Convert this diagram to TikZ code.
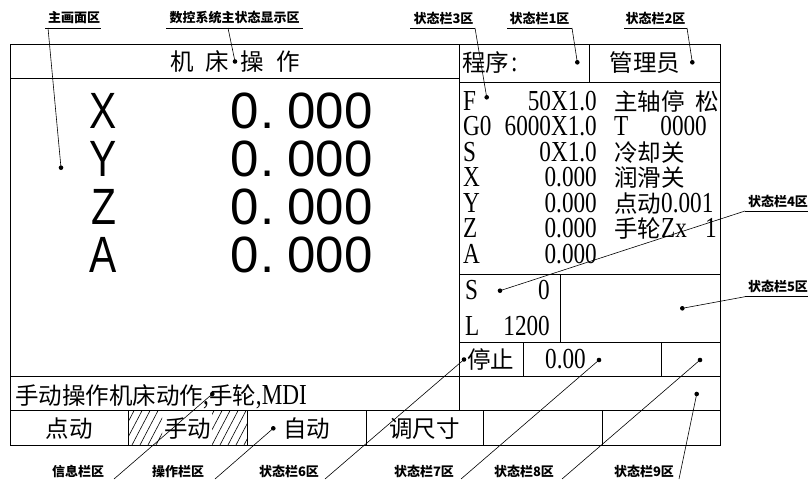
\documentclass[tikz,border=0pt]{standalone}
\usepackage{fontspec}
\setmainfont{Noto Sans CJK SC}
\newfontfamily\cjk{Noto Sans CJK SC}
\newfontfamily\lat{Liberation Serif}[FakeStretch=0.8]
\newfontfamily\bigdig{Liberation Sans}
\newfontfamily\biglet{Liberation Sans}[FakeStretch=0.8]
\newfontfamily\labfont{Noto Sans CJK SC}
\newcommand\lt[1]{{\lat\fontsize{29}{29}\selectfont #1}}
\begin{document}
\begin{tikzpicture}[x=1pt,y=-1pt,
  frame/.style={line width=0.9pt},
  leader/.style={line width=0.6pt},
  hatchline/.style={line width=0.6pt},
  cj/.style={font=\cjk\fontsize{23.5}{23.5}\selectfont, inner sep=0pt},
  la/.style={font=\lat\fontsize{29}{29}\selectfont, inner sep=0pt},
  bigd/.style={font=\bigdig\fontsize{51}{51}\selectfont, inner sep=0pt, anchor=base},
  bigl/.style={font=\biglet\fontsize{51}{51}\selectfont, inner sep=0pt, anchor=base},
  lab/.style={font=\labfont\bfseries\fontsize{13}{13}\selectfont, inner sep=0pt},
  dotmark/.style={circle, fill=black, inner sep=0pt, minimum size=4.6pt}]
\useasboundingbox (0,0) rectangle (808,479);

% ---------- frame ----------
\draw[frame] (10,44) rectangle (720.5,445);
\draw[frame] (10,78) -- (459,78);
\draw[frame] (459,44) -- (459,410.7);
\draw[frame] (459,82.5) -- (720.5,82.5);
\draw[frame] (589.7,44) -- (589.7,82.5);
\draw[frame] (459,274.3) -- (720.5,274.3);
\draw[frame] (560,274.3) -- (560,342.7);
\draw[frame] (459,342.7) -- (720.5,342.7);
\draw[frame] (10,376.7) -- (720.5,376.7);
\draw[frame] (523.3,342.7) -- (523.3,376.7);
\draw[frame] (661,342.7) -- (661,376.7);
\draw[frame] (10,410.7) -- (720.5,410.7);
\foreach \xx in {128,247,366,483,602} \draw[frame] (\xx,410.7) -- (\xx,445);

% ---------- hatch of the selected key ----------
\begin{scope}
  \clip (128,410.7) rectangle (162,445) (212,410.7) rectangle (247,445);
  \foreach \xx in {100,108,...,260} \draw[hatchline] (\xx,445) -- (\xx+18,410.7);
\end{scope}

% ---------- main screen ----------
\node[cj] (title) at (235,61.5) {机\hspace{12pt}床\hspace{12pt}操\hspace{12pt}作};

\foreach \nm/\lbl/\yy in {ax/X/128, ay/Y/176, az/Z/224, aa/A/272}{
  \node[bigl] (\nm-l) at (103.5,\yy) {\lbl};
  \node[bigd] (\nm-a) at (245,\yy) {0};
  \node[bigd] (\nm-b) at (267.5,\yy) {.};
  \node[bigd] (\nm-c) at (330,\yy) {000};
}

% ---------- right panel ----------
\node[cj, anchor=west] (prog) at (462,63) {程序\hspace{2pt}\lt{:}};
\node[cj] (admin) at (645,63) {管理员};

\node[la, anchor=base west] (rF) at (463,110) {F};
\node[la, anchor=base east] (vF) at (597,110) {50X1.0};
\node[cj, anchor=base west] (sF) at (614,110) {主轴停};
\node[cj, anchor=base east] (sF2) at (719,110) {松};

\node[la, anchor=base west] (rG) at (463,135.5) {G0};
\node[la, anchor=base east] (vG) at (597,135.5) {6000X1.0};
\node[la, anchor=base west] (sT) at (614,135.5) {T};
\node[la, anchor=base east] (sT2) at (707,135.5) {0000};

\node[la, anchor=base west] (rS) at (463,161) {S};
\node[la, anchor=base east] (vS) at (597,161) {0X1.0};
\node[cj, anchor=base west] (sS) at (614,161) {冷却关};

\node[la, anchor=base west] (rX) at (463,186.5) {X};
\node[la, anchor=base east] (vX) at (597,186.5) {0.000};
\node[cj, anchor=base west] (sX) at (614,186.5) {润滑关};

\node[la, anchor=base west] (rY) at (463,212) {Y};
\node[la, anchor=base east] (vY) at (597,212) {0.000};
\node[cj, anchor=base west] (sY) at (614,212) {点动\lt{0.001}};

\node[la, anchor=base west] (rZ) at (463,237.5) {Z};
\node[la, anchor=base east] (vZ) at (597,237.5) {0.000};
\node[cj, anchor=base west] (sZ) at (614,237.5) {手轮\lt{Zx}};
\node[la, anchor=base east] (sZ2) at (717,237.5) {1};

\node[la, anchor=base west] (rA) at (463,263) {A};
\node[la, anchor=base east] (vA) at (597,263) {0.000};

\node[la, anchor=base west] (bS) at (465,299) {S};
\node[la, anchor=base east] (bS2) at (550,299) {0};
\node[la, anchor=base west] (bL) at (465,335) {L};
\node[la, anchor=base east] (bL2) at (550,335) {1200};

\node[cj] (stop) at (490.5,359) {停止};
\node[la, anchor=base east] (feed) at (586,368) {0.00};

% ---------- info and keys ----------
\node[cj, anchor=base west] (info) at (15,404) {手动操作机床动作\lt{,}手轮\lt{,MDI}};
\node[cj] (k1) at (69,429) {点动};
\node[cj] (k2) at (187.5,429) {手动};
\node[cj] (k3) at (306.5,429) {自动};
\node[cj] (k4) at (424.5,429) {调尺寸};

% ---------- dots ----------
\node[dotmark] (d1) at (61,167.7) {};
\node[dotmark] (d2) at (235,61.5) {};
\node[dotmark] (d3) at (486.7,97.3) {};
\node[dotmark] (d4) at (577.3,62.3) {};
\node[dotmark] (d5) at (692.3,62.3) {};
\node[dotmark] (d6) at (500,290.7) {};
\node[dotmark] (d7) at (682.3,308.3) {};
\node[dotmark] (d8) at (212.3,394) {};
\node[dotmark] (d9) at (273.3,428.3) {};
\node[dotmark] (d10) at (464,359.5) {};
\node[dotmark] (d11) at (599,360) {};
\node[dotmark] (d12) at (700,360) {};
\node[dotmark] (d13) at (696.7,394) {};

% ---------- annotation labels ----------
\node[lab] (L1) at (74,18) {主画面区};
\node[lab] (L2) at (234.5,18) {数控系统主状态显示区};
\node[lab] (L3) at (443.5,18) {状态栏3区};
\node[lab] (L4) at (539.5,18) {状态栏1区};
\node[lab] (L5) at (655.5,18) {状态栏2区};
\node[lab] (L6) at (778,201.7) {状态栏4区};
\node[lab] (L7) at (778,286.7) {状态栏5区};
\node[lab] (L8) at (78,471.7) {信息栏区};
\node[lab] (L9) at (178,471.7) {操作栏区};
\node[lab] (L10) at (289,471.7) {状态栏6区};
\node[lab] (L11) at (424,471.7) {状态栏7区};
\node[lab] (L12) at (524,471.7) {状态栏8区};
\node[lab] (L13) at (644,471.7) {状态栏9区};

% underline end points
\coordinate (u1a) at (45,28);    \coordinate (u1b) at (101,28);
\coordinate (u2a) at (166,28);   \coordinate (u2b) at (303,28);
\coordinate (u3a) at (410,28);   \coordinate (u3b) at (475,28);
\coordinate (u4a) at (507,28);   \coordinate (u4b) at (572,28);
\coordinate (u5a) at (624,28);   \coordinate (u5b) at (687,28);
\coordinate (u6a) at (745,211);  \coordinate (u6b) at (808,211);
\coordinate (u7a) at (745,296.7);\coordinate (u7b) at (808,296.7);
\coordinate (t1) at (48,28);
\coordinate (t2) at (228,28);
\coordinate (b8) at (114,479);
\coordinate (b9) at (215,479);
\coordinate (b10) at (325,479);
\coordinate (b11) at (461,479);
\coordinate (b12) at (562,479);
\coordinate (b13) at (679,479);

\foreach \a/\b in {u1a/u1b,u2a/u2b,u3a/u3b,u4a/u4b,u5a/u5b,u6a/u6b,u7a/u7b}
  \draw[leader] (\a) -- (\b);

\draw[leader] (t1) -- (d1.center);
\draw[leader] (t2) -- (d2.center);
\draw[leader] (u3b) -- (d3.center);
\draw[leader] (u4b) -- (d4.center);
\draw[leader] (u5b) -- (d5.center);
\draw[leader] (u6a) -- (d6.center);
\draw[leader] (u7a) -- (d7.center);
\draw[leader] (b8) -- (d8.center);
\draw[leader] (b9) -- (d9.center);
\draw[leader] (b10) -- (d10.center);
\draw[leader] (b11) -- (d11.center);
\draw[leader] (b12) -- (d12.center);
\draw[leader] (b13) -- (d13.center);
\end{tikzpicture}
\end{document}
